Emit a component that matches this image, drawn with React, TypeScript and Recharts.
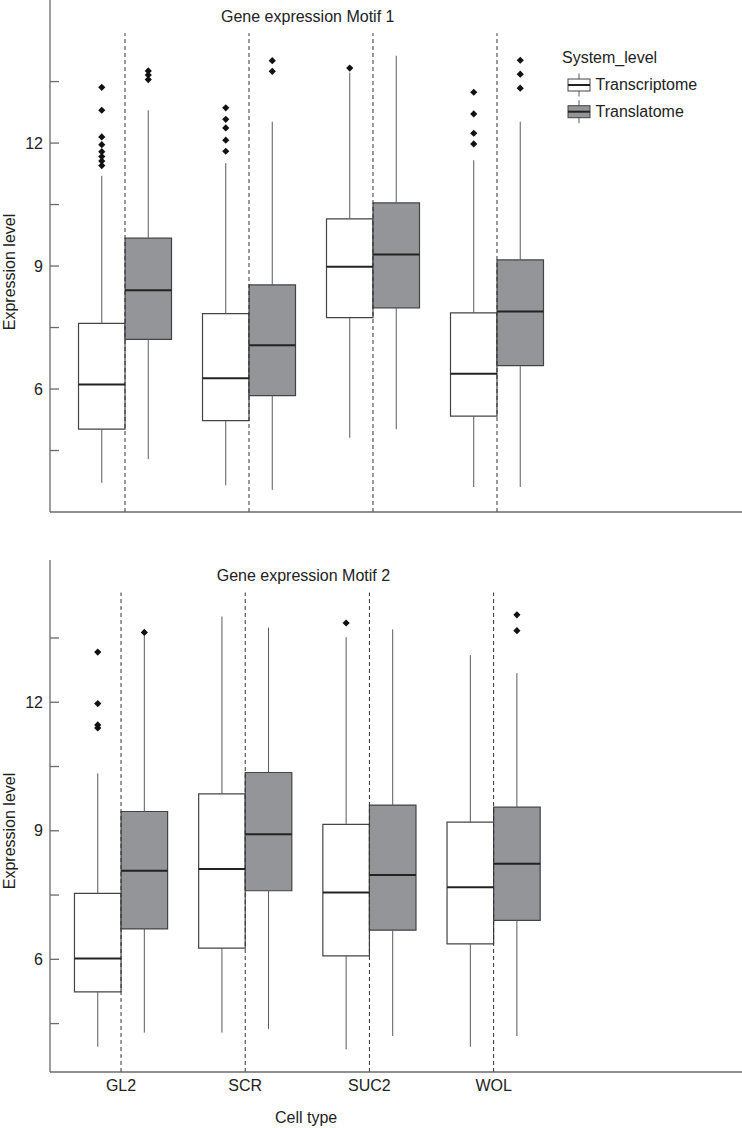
import React from 'react';
import { ComposedChart, XAxis, YAxis, Scatter, ReferenceArea, ReferenceLine, Legend } from 'recharts';

const CELL_TYPES = ['GL2', 'SCR', 'SUC2', 'WOL'];
const SYSTEM_LEVELS = ['Transcriptome', 'Translatome'];
const Y_TICKS = [4.5, 6, 7.5, 9, 10.5, 12, 13.5];
const Y_LABELED = [6, 9, 12];

// per cell type: [lower whisker, Q1, median, Q3, upper whisker]
const motif1Transcriptome = [
  [3.71, 5.02, 6.11, 7.6, 11.2],
  [3.65, 5.23, 6.26, 7.84, 11.51],
  [4.81, 7.74, 8.98, 10.15, 13.72],
  [3.61, 5.34, 6.37, 7.86, 11.58],
];
const motif1Translatome = [
  [4.29, 7.21, 8.41, 9.68, 12.8],
  [3.54, 5.84, 7.07, 8.54, 12.52],
  [5.02, 7.98, 9.28, 10.54, 14.13],
  [3.61, 6.57, 7.89, 9.15, 12.52],
];
const motif1TranscriptomeOutliers = [
  [11.45, 11.56, 11.67, 11.79, 11.96, 12.15, 12.8, 13.36],
  [11.8, 12.07, 12.37, 12.58, 12.86],
  [13.83],
  [11.98, 12.24, 12.71, 13.24],
];
const motif1TranslatomeOutliers = [
  [13.55, 13.66, 13.76],
  [13.75, 14.01],
  [],
  [13.34, 13.68, 14.02],
];

const motif2Transcriptome = [
  [3.96, 5.24, 6.02, 7.54, 10.34],
  [4.29, 6.26, 8.11, 9.86, 14.0],
  [3.9, 6.08, 7.56, 9.15, 13.52],
  [3.96, 6.36, 7.68, 9.2, 13.1],
];
const motif2Translatome = [
  [4.29, 6.71, 8.07, 9.45, 13.56],
  [4.37, 7.6, 8.92, 10.36, 13.74],
  [4.21, 6.68, 7.97, 9.6, 13.7],
  [4.21, 6.91, 8.23, 9.55, 12.68],
];
const motif2TranscriptomeOutliers = [
  [11.4, 11.47, 11.97, 13.17],
  [],
  [13.85],
  [],
];
const motif2TranslatomeOutliers = [
  [13.63],
  [],
  [],
  [13.67, 14.04],
];

const FONT = '"Liberation Sans", Arial, sans-serif';
const TEXT = '#222';
const AXIS = '#6a6a6a';
const BOX_EDGE = '#444';
const WHISKER = '#5a5a5a';
const FILLS = ['#ffffff', '#939598'];
const HALF = 0.375;

const YTick = (props: any) => {
  const { x, y, payload } = props;
  return (
    <g>
      <line x1={x} x2={x + 9} y1={y} y2={y} stroke={AXIS} strokeWidth={1.3} />
      {Y_LABELED.includes(payload.value) && (
        <text x={x - 7} y={y} dy="0.35em" textAnchor="end" fontSize={16} fontFamily={FONT} fill={TEXT}>
          {payload.value}
        </text>
      )}
    </g>
  );
};

const Diamond = (props: any) => {
  const { cx, cy } = props;
  const r = 3.6;
  return <polygon points={`${cx},${cy - r} ${cx + r},${cy} ${cx},${cy + r} ${cx - r},${cy}`} fill="#111" />;
};

const LegendContent = () => (
  <svg width={742} height={130} style={{ display: 'block' }}>
    <text x={562} y={62.5} fontSize={16} fontFamily={FONT} fill={TEXT}>System_level</text>
    {SYSTEM_LEVELS.map((name, i) => {
      const cy = 85 + i * 26.7;
      return (
        <g key={name}>
          <line x1={579} x2={579} y1={cy - 11.5} y2={cy + 11.5} stroke={WHISKER} />
          <rect x={568} y={cy - 6} width={22} height={12} fill={FILLS[i]} stroke={BOX_EDGE} />
          <line x1={568} x2={590} y1={cy} y2={cy} stroke="#222" strokeWidth={2} />
          <text x={595.5} y={cy + 5.3} fontSize={16} fontFamily={FONT} fill={TEXT}>{name}</text>
        </g>
      );
    })}
  </svg>
);

interface PanelProps {
  stats: number[][][];
  outliers: number[][][];
  xDomain: [number, number];
  yDomain: [number, number];
  dividerTop: number;
  height: number;
  marginTop: number;
  xAxisHeight: number;
  showCellTypes: boolean;
  showLegend: boolean;
}

function Panel({ stats, outliers, xDomain, yDomain, dividerTop, height, marginTop, xAxisHeight, showCellTypes, showLegend }: PanelProps) {
  const points = outliers.map((series, si) =>
    series.flatMap((vals, i) => vals.map((y) => ({ x: i + 1 + (si === 0 ? -HALF / 2 : HALF / 2), y })))
  );

  return (
    <ComposedChart width={742} height={height} margin={{ top: marginTop, right: 0, bottom: 0, left: 0 }}>
      <XAxis
        type="number"
        dataKey="x"
        domain={xDomain}
        ticks={[1, 2, 3, 4]}
        interval={0}
        tickFormatter={(v: number) => CELL_TYPES[v - 1]}
        tick={showCellTypes ? { fontSize: 16, fontFamily: FONT, fill: TEXT } : false}
        tickLine={false}
        axisLine={{ stroke: AXIS, strokeWidth: 1.3 }}
        height={xAxisHeight}
        allowDataOverflow
      />
      <YAxis
        type="number"
        dataKey="y"
        domain={yDomain}
        ticks={Y_TICKS}
        interval={0}
        tick={<YTick />}
        tickLine={false}
        tickSize={0}
        tickMargin={0}
        width={50}
        axisLine={{ stroke: AXIS, strokeWidth: 1.3 }}
        allowDataOverflow
      />
      {CELL_TYPES.map((c, i) => (
        <ReferenceLine
          key={'div-' + c}
          segment={[{ x: i + 1, y: yDomain[0] }, { x: i + 1, y: dividerTop }]}
          stroke="#333"
          strokeDasharray="4 3"
        />
      ))}
      {stats.map((series, si) =>
        series.map(([lo, q1, med, q3, hi], i) => {
          const x0 = i + 1 + (si === 0 ? -HALF : 0);
          const x1 = x0 + HALF;
          const xm = (x0 + x1) / 2;
          const k = `${si}-${i}`;
          return (
            <React.Fragment key={k}>
              <ReferenceLine segment={[{ x: xm, y: lo }, { x: xm, y: q1 }]} stroke={WHISKER} />
              <ReferenceLine segment={[{ x: xm, y: q3 }, { x: xm, y: hi }]} stroke={WHISKER} />
              <ReferenceArea x1={x0} x2={x1} y1={q1} y2={q3} fill={FILLS[si]} fillOpacity={1} stroke={BOX_EDGE} strokeWidth={1.2} />
              <ReferenceLine segment={[{ x: x0, y: med }, { x: x1, y: med }]} stroke="#222" strokeWidth={2} />
            </React.Fragment>
          );
        })
      )}
      {points.map((data, si) => (
        <Scatter
          key={SYSTEM_LEVELS[si]}
          name={SYSTEM_LEVELS[si]}
          data={data}
          dataKey="y"
          fill="#111"
          shape={<Diamond />}
          isAnimationActive={false}
        />
      ))}
      {showLegend && (
        <Legend
          layout="horizontal"
          verticalAlign="middle"
          align="center"
          wrapperStyle={{ left: 0, top: 0, right: 'auto', bottom: 'auto', width: 742, height: 130 }}
          content={<LegendContent />}
        />
      )}
    </ComposedChart>
  );
}

export default function App() {
  return (
    <div style={{ position: 'absolute', left: 0, top: 0, width: 742, height: 1128, background: '#fff' }}>
      <div style={{ position: 'absolute', left: 0, top: 0 }}>
        <Panel
          stats={[motif1Transcriptome, motif1Translatome]}
          outliers={[motif1TranscriptomeOutliers, motif1TranslatomeOutliers]}
          xDomain={[0.395, 5.976]}
          yDomain={[3.0, 15.49]}
          dividerTop={14.68}
          height={535}
          marginTop={0}
          xAxisHeight={23}
          showCellTypes={false}
          showLegend
        />
      </div>
      <div style={{ position: 'absolute', left: 0, top: 535 }}>
        <Panel
          stats={[motif2Transcriptome, motif2Translatome]}
          outliers={[motif2TranscriptomeOutliers, motif2TranslatomeOutliers]}
          xDomain={[0.428, 6.0]}
          yDomain={[3.37, 15.32]}
          dividerTop={14.56}
          height={593}
          marginTop={25}
          xAxisHeight={56}
          showCellTypes
          showLegend={false}
        />
      </div>
      <svg width={742} height={1128} style={{ position: 'absolute', left: 0, top: 0, pointerEvents: 'none' }}>
        <g fontFamily={FONT} fontSize={16} fill={TEXT}>
          <text x={221} y={21.7}>Gene expression Motif 1</text>
          <text x={216.7} y={581}>Gene expression Motif 2</text>
          <text transform="translate(15, 272) rotate(-90)" textAnchor="middle">Expression level</text>
          <text transform="translate(15, 831) rotate(-90)" textAnchor="middle">Expression level</text>
          <text x={275} y={1123}>Cell type</text>
        </g>
      </svg>
    </div>
  );
}
